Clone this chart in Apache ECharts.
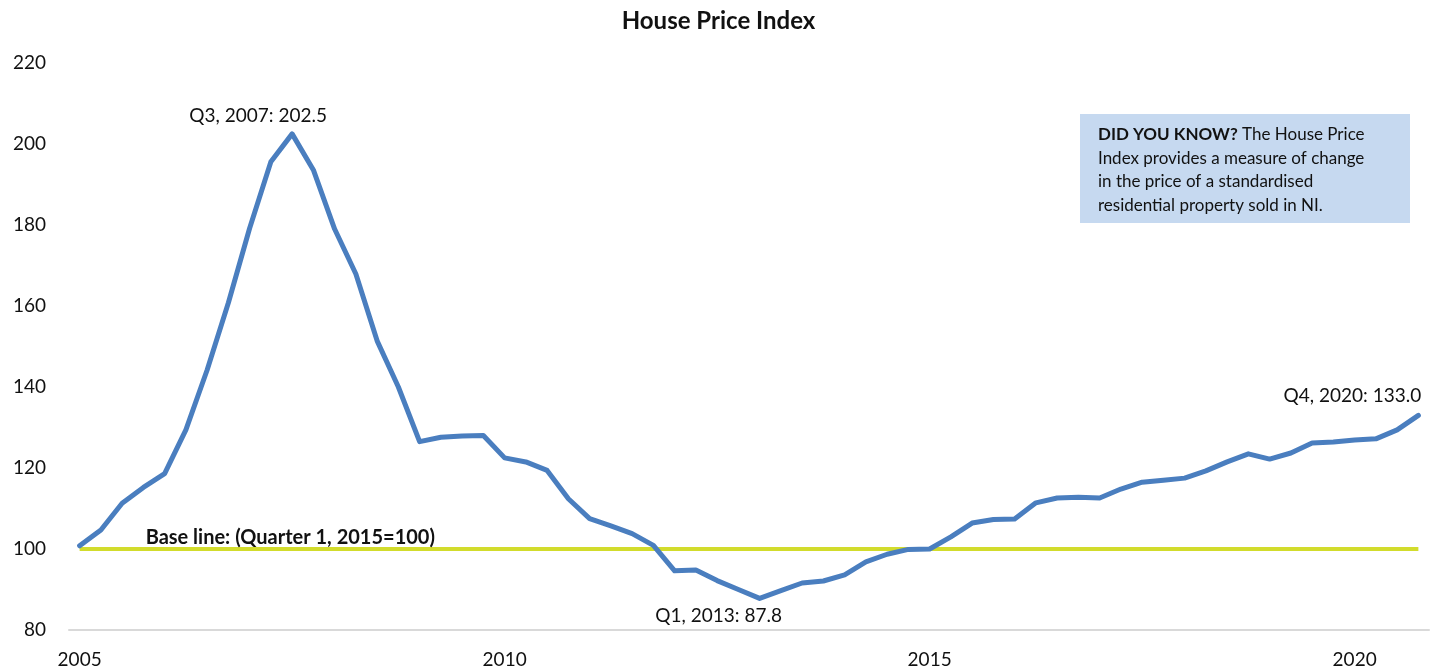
<!DOCTYPE html>
<html>
<head>
<meta charset="utf-8">
<script src="https://cdn.jsdelivr.net/npm/echarts@6/dist/echarts.min.js"></script>
<style>
  html, body { margin: 0; padding: 0; background: #fff; }
  #chart { width: 1437px; height: 671px; }
</style>
</head>
<body>
<div id="chart"></div>
<script>
// quarterly index, Q1 2005 .. Q4 2020
const years = [2005, 2006, 2007, 2008, 2009, 2010, 2011, 2012, 2013, 2014, 2015, 2016, 2017, 2018, 2019, 2020];
const quarterNames = ["Q1", "Q2", "Q3", "Q4"];
const categories = years.flatMap((y) => quarterNames.map((q) => `${q}, ${y}`));

const hpi = [
  100.8, 104.7, 111.3, 115.2, 118.6, 129.4, 144.2, 160.8, 179.2, 195.6, 202.5, 193.6,
  179.0, 167.9, 151.4, 140.0, 126.5, 127.6, 127.9, 128.0, 122.5, 121.5, 119.4, 112.4,
  107.5, 105.7, 103.8, 100.9, 94.6, 94.8, 92.2, 90.0, 87.8, 89.7, 91.6, 92.1,
  93.6, 96.8, 98.7, 99.9, 100.0, 103.0, 106.4, 107.3, 107.4, 111.4, 112.6, 112.8,
  112.6, 114.8, 116.5, 117.0, 117.5, 119.3, 121.5, 123.5, 122.2, 123.7, 126.2, 126.4,
  126.9, 127.2, 129.4, 133.0,
];

const baseValue = 100;
const baseLabel = "Base line: (Quarter 1, 2015=100)";
const yTicks = [80, 100, 120, 140, 160, 180, 200, 220];

// highlighted points: index into hpi
const callouts = [
  { index: 10, position: "top", offset: [-34, -4] },
  { index: 32, position: "bottom", offset: [-41, 3] },
  { index: 63, position: "top", offset: [-66, -5] },
];

const FONT = "Lato, 'Open Sans', sans-serif";

const seriesData = hpi.map((v, i) => {
  const c = callouts.find((item) => item.index === i);
  if (!c) return v;
  return {
    value: v,
    label: {
      show: true,
      position: c.position,
      offset: c.offset,
      formatter: `${categories[i]}: ${v.toFixed(1)}`,
      fontFamily: FONT,
      fontSize: 19,
      color: "#111",
    },
  };
});

const chart = echarts.init(document.getElementById("chart"));
chart.setOption({
  animation: false,
  title: {
    text: "House Price Index",
    left: "center",
    top: 4,
    textStyle: { fontFamily: FONT, fontSize: 24, fontWeight: "bold", color: "#111" },
  },
  grid: { left: 69, right: 8, top: 63, bottom: 41 },
  xAxis: {
    type: "category",
    data: categories,
    boundaryGap: true,
    axisTick: { show: false },
    axisLine: { lineStyle: { color: "#d9d9d9", width: 2 } },
    axisLabel: {
      interval: 19,
      margin: 20,
      fontFamily: FONT,
      fontSize: 19,
      color: "#111",
      formatter: (val) => val.split(", ")[1],
    },
  },
  yAxis: {
    type: "value",
    min: yTicks[0],
    max: yTicks[yTicks.length - 1],
    interval: 20,
    splitLine: { show: false },
    axisLine: { show: false },
    axisTick: { show: false },
    axisLabel: { margin: 23, fontFamily: FONT, fontSize: 19, color: "#111" },
  },
  series: [
    {
      name: "House Price Index",
      type: "line",
      data: seriesData,
      symbol: "circle",
      symbolSize: 0,
      showSymbol: true,
      showAllSymbol: true,
      itemStyle: { color: "#4a7ebf" },
      lineStyle: { color: "#4a7ebf", width: 5, cap: "round", join: "round" },
      z: 3,
      markLine: {
        silent: true,
        symbol: "none",
        lineStyle: { color: "#d2dc2c", width: 4, type: "solid" },
        label: {
          show: true,
          position: "insideStartTop",
          distance: [66, 1],
          formatter: baseLabel,
          fontFamily: FONT,
          fontSize: 20,
          fontWeight: "bold",
          color: "#111",
        },
        data: [[{ coord: [0, baseValue] }, { coord: [hpi.length - 1, baseValue] }]],
        z: 2,
      },
    },
  ],
  graphic: [
    {
      type: "group",
      left: 1080,
      top: 114,
      children: [
        { type: "rect", shape: { x: 0, y: 0, width: 330, height: 109 }, style: { fill: "#c6d9f0" } },
        {
          type: "text",
          x: 18,
          y: 9,
          style: {
            text: "{b|DID YOU KNOW?} The House Price\nIndex provides a measure of change\nin the price of a standardised\nresidential property sold in NI.",
            fontFamily: FONT,
            fontSize: 17,
            lineHeight: 23.5,
            fill: "#111",
            rich: {
              b: { fontFamily: FONT, fontSize: 17, fontWeight: "bold", lineHeight: 23.5, fill: "#111" },
            },
          },
        },
      ],
    },
  ],
});
</script>
</body>
</html>
